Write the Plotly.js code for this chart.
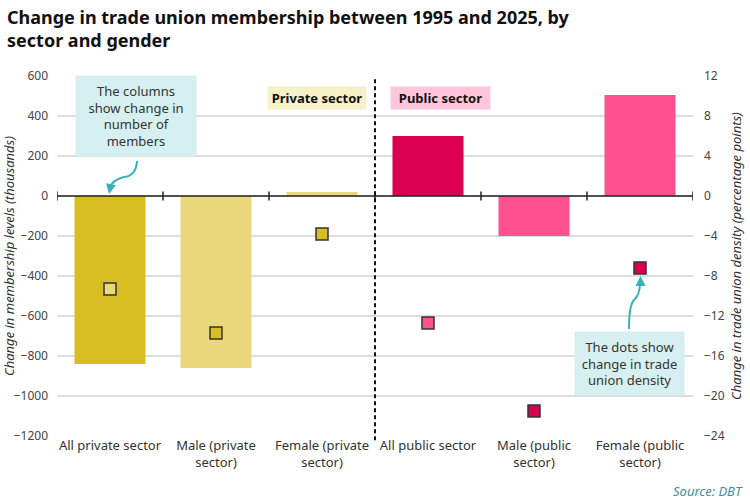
<!DOCTYPE html>
<html>
<head>
<meta charset="utf-8">
<script src="https://cdn.plot.ly/plotly-3.0.1.min.js"></script>
<style>html,body{margin:0;padding:0;background:#fff;}#chart{width:750px;height:502px;}</style>
</head>
<body>
<div id="chart"></div>
<script>
// ---- data ----
var categories = ['All private sector', 'Male (private sector)', 'Female (private sector)',
                  'All public sector', 'Male (public sector)', 'Female (public sector)'];
var tickLabels = ['All private sector', 'Male (private<br>sector)', 'Female (private<br>sector)',
                  'All public sector', 'Male (public<br>sector)', 'Female (public<br>sector)'];
var membershipChange = [-840, -860, 20, 300, -200, 505];      // thousands
var densityChange = [-9.3, -13.7, -3.8, -12.7, -21.5, -7.2];   // percentage points
var barColors = ['#D8BE22', '#E9D97A', '#E9D97A', '#DC0050', '#FF5090', '#FF5090'];
var dotColors = ['#E9D97A', '#D8BE22', '#D8BE22', '#FF5090', '#DC0050', '#DC0050'];
var leftTicks = [600, 400, 200, 0, -200, -400, -600, -800, -1000, -1200];
var rightTicks = [12, 8, 4, 0, -4, -8, -12, -16, -20, -24];

var idx = categories.map(function (c, i) { return i; });

var font = 'Noto Sans, Open Sans, sans-serif';

var traces = [
  {
    type: 'bar', x: idx, y: membershipChange, width: 0.67,
    marker: {color: barColors, line: {width: 0}},
    hoverinfo: 'skip', showlegend: false
  },
  {
    type: 'scatter', mode: 'markers', x: idx, y: densityChange, yaxis: 'y2',
    marker: {symbol: 'square', size: 12, color: dotColors, line: {color: '#333333', width: 1.5}},
    hoverinfo: 'skip', showlegend: false
  }
];

var shapes = [];
// zero line
shapes.push({type: 'line', xref: 'paper', x0: 0, x1: 1, yref: 'y', y0: 0, y1: 0,
             line: {color: '#222', width: 1.5}, layer: 'above'});
// boundary ticks on zero line
for (var b = -0.5; b <= categories.length - 0.5; b += 1) {
  shapes.push({type: 'line', xref: 'x', x0: b, x1: b, yref: 'y', ysizemode: 'pixel', yanchor: 0,
               y0: -4.5, y1: 4.5, line: {color: '#222', width: 1.5}, layer: 'above'});
}
// dashed sector divider
shapes.push({type: 'line', xref: 'x', x0: 2.5, x1: 2.5, yref: 'paper', y0: -0.012, y1: 0.995,
             line: {color: '#111', width: 2, dash: '4px,3px'}, layer: 'above'});

function px(x) { return (x - 57) / 636; }
function py(y) { return (436 - y) / 360; }

// curved arrow paths
shapes.push({type: 'path', xref: 'paper', yref: 'paper',
  path: 'M ' + px(137) + ' ' + py(161) + ' Q ' + px(136) + ' ' + py(176) + ' ' + px(124) + ' ' + py(177) +
        ' Q ' + px(112) + ' ' + py(180) + ' ' + px(110) + ' ' + py(188),
  line: {color: '#3BB0BC', width: 2}});
shapes.push({type: 'path', xref: 'paper', yref: 'paper',
  path: 'M ' + px(629) + ' ' + py(329) + ' Q ' + px(629) + ' ' + py(305) + ' ' + px(634) + ' ' + py(300) +
        ' Q ' + px(640) + ' ' + py(295) + ' ' + px(640) + ' ' + py(282),
  line: {color: '#3BB0BC', width: 2}});

var annotations = [
  {xref: 'paper', yref: 'paper', x: px(5), y: py(3), xanchor: 'left', yanchor: 'top', align: 'left',
   text: '<b>Change in trade union membership between 1995 and 2025, by<br>sector and gender</b>',
   showarrow: false, font: {family: font, size: 18, color: '#111'}},
  {xref: 'paper', yref: 'paper', x: px(136), y: py(116), xanchor: 'center', yanchor: 'middle',
   text: 'The columns<br>show change in<br>number of<br>members', showarrow: false,
   font: {family: font, size: 13, color: '#333'}, align: 'center',
   bgcolor: '#D6F0F2', width: 118, height: 78},
  {xref: 'paper', yref: 'paper', x: px(629.5), y: py(363.5), xanchor: 'center', yanchor: 'middle',
   text: 'The dots show<br>change in trade<br>union density', showarrow: false,
   font: {family: font, size: 13, color: '#333'}, align: 'center',
   bgcolor: '#D6F0F2', width: 107, height: 61},
  {xref: 'paper', yref: 'paper', x: px(317), y: py(98), xanchor: 'center', yanchor: 'middle',
   text: '<b>Private sector</b>', showarrow: false,
   font: {family: font, size: 13, color: '#111'}, bgcolor: '#F6F1C9', width: 96, height: 20},
  {xref: 'paper', yref: 'paper', x: px(440.5), y: py(98), xanchor: 'center', yanchor: 'middle',
   text: '<b>Public sector</b>', showarrow: false,
   font: {family: font, size: 13, color: '#111'}, bgcolor: '#FFC6DB', width: 97, height: 20},
  // arrowheads
  {xref: 'paper', yref: 'paper', x: px(109), y: py(194), ax: 2, ay: -10, text: '',
   showarrow: true, arrowhead: 2, arrowsize: 1, arrowwidth: 2, arrowcolor: '#3BB0BC'},
  {xref: 'paper', yref: 'paper', x: px(640.5), y: py(276), ax: 0, ay: 10, text: '',
   showarrow: true, arrowhead: 2, arrowsize: 1, arrowwidth: 2, arrowcolor: '#3BB0BC'},
  // source
  {xref: 'paper', yref: 'paper', x: px(745), y: py(491), xanchor: 'right', yanchor: 'middle',
   text: '<i>Source: DBT</i>', showarrow: false, font: {family: font, size: 13, color: '#3A8FA0'}}
];

var layout = {
  width: 750, height: 502,
  paper_bgcolor: '#fff', plot_bgcolor: '#fff',
  margin: {l: 57, r: 57, t: 76, b: 66, pad: 0},
  xaxis: {range: [-0.5, 5.5], tickvals: idx, ticktext: tickLabels, showgrid: false, zeroline: false,
          showline: false, ticks: '', tickfont: {family: font, size: 13, color: '#333'}, fixedrange: true},
  yaxis: {range: [-1200, 600], tickvals: leftTicks, showgrid: true, gridcolor: '#DDDDDD', gridwidth: 1.5,
          zeroline: false, ticks: '', tickfont: {family: font, size: 12, color: '#444'},
          ticklabelstandoff: 8,
          title: {text: '<i>Change in membership levels (thousands)</i>', standoff: 3,
                  font: {family: font, size: 13, color: '#333'}}, fixedrange: true},
  yaxis2: {range: [-24, 12], tickvals: rightTicks, overlaying: 'y', side: 'right', showgrid: false,
           zeroline: false, ticks: '', tickfont: {family: font, size: 12, color: '#444'},
           ticklabelstandoff: 10,
           title: {text: '<i>Change in trade union density (percentage points)</i>', standoff: 8,
                   font: {family: font, size: 13, color: '#333'}}, fixedrange: true},
  bargap: 0.33,
  shapes: shapes,
  annotations: annotations,
  showlegend: false
};

Plotly.newPlot('chart', traces, layout, {displayModeBar: false, staticPlot: true});
</script>
</body>
</html>
